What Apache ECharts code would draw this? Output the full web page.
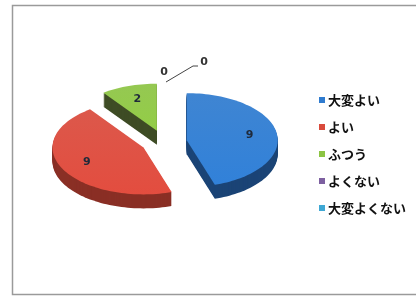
<!DOCTYPE html>
<html>
<head>
<meta charset="utf-8">
<script src="https://cdn.jsdelivr.net/npm/echarts@6/dist/echarts.min.js"></script>
<style>
  html, body { margin: 0; padding: 0; background: #fff; }
  #chart { width: 416px; height: 300px; }
</style>
</head>
<body>
<div id="chart"></div>
<script>
  // 回答の集計
  var categories = ['大変よい', 'よい', 'ふつう', 'よくない', '大変よくない'];
  var values = [9, 9, 2, 0, 0];

  var topColors = ['#2f7bcf', '#d94a3c', '#8cc443', '#7d60a0', '#3fa8d4'];
  var sideColors = ['#1b4476', '#8a2f25', '#3e4c25', '#4a3a66', '#25657f'];

  // ellipse geometry of the tilted pie
  var cx = 164, cy = 142, rx = 91, ry = 47, explode = 23, depth = 14;

  var total = values.reduce(function (a, b) { return a + b; }, 0);

  function pt(ox, oy, t, f) {
    return [ox + rx * f * Math.sin(t), oy - ry * f * Math.cos(t)];
  }

  function renderSlice(idx) {
    return function (params, api) {
      var v = api.value(0);
      var before = 0;
      for (var k = 0; k < idx; k++) before += values[k];
      var a0 = before / total * Math.PI * 2;
      var a1 = (before + v) / total * Math.PI * 2;
      var children = [];

      if (v === 0) {
        // zero slices: label only, above the top of the pie
        var zi = 0;
        for (var k2 = 0; k2 < idx; k2++) if (values[k2] === 0) zi++;
        var top = pt(cx, cy, a0, 1);
        if (zi === 0) {
          children.push({ type: 'text', style: { text: String(v), x: top[0], y: top[1] - 23,
            align: 'center', verticalAlign: 'middle', font: 'bold 11px "DejaVu Sans"', fill: '#333' } });
        } else {
          children.push({ type: 'polyline', shape: { points: [[top[0] + 2, top[1] - 13], [top[0] + 29, top[1] - 29], [top[0] + 34, top[1] - 29]] },
            style: { stroke: '#444', lineWidth: 1, fill: null } });
          children.push({ type: 'text', style: { text: String(v), x: top[0] + 40, y: top[1] - 33,
            align: 'center', verticalAlign: 'middle', font: 'bold 11px "DejaVu Sans"', fill: '#333' } });
        }
        return { type: 'group', children: children };
      }

      var mid = (a0 + a1) / 2;
      var ox = cx + explode * Math.sin(mid);
      var oy = cy - explode * Math.cos(mid) * ry / rx;

      var pts = [[ox, oy]];
      var n = Math.max(4, Math.ceil((a1 - a0) / (Math.PI / 90)));
      for (var j = 0; j <= n; j++) {
        pts.push(pt(ox, oy, a0 + (a1 - a0) * j / n, 1));
      }

      // side walls: stacked copies shifted down
      for (var d = depth; d >= 1; d--) {
        children.push({
          type: 'polygon',
          shape: { points: pts.map(function (p) { return [p[0], p[1] + d]; }) },
          style: { fill: sideColors[idx] }
        });
      }
      children.push({
        type: 'polygon',
        shape: { points: pts },
        style: {
          fill: new echarts.graphic.LinearGradient(0, 0, 0, 1, [
            { offset: 0, color: echarts.color.lift(topColors[idx], 0.08) },
            { offset: 1, color: echarts.color.lift(topColors[idx], -0.05) }
          ])
        }
      });

      var lp = pt(ox, oy, mid, 0.7);
      children.push({
        type: 'text',
        style: { text: String(v), x: lp[0], y: lp[1], align: 'center', verticalAlign: 'middle',
          font: 'bold 11px "DejaVu Sans"', fill: '#1f2a3a' }
      });
      return { type: 'group', children: children };
    };
  }

  var series = categories.map(function (name, i) {
    return {
      type: 'custom',
      name: name,
      coordinateSystem: 'none',
      itemStyle: { color: topColors[i] },
      data: [[values[i]]],
      renderItem: renderSlice(i)
    };
  });

  var chart = echarts.init(document.getElementById('chart'), null, { renderer: 'canvas' });
  chart.setOption({
    animation: false,
    backgroundColor: '#fff',
    color: topColors,
    legend: {
      orient: 'vertical',
      left: 314,
      top: 88,
      icon: 'rect',
      itemWidth: 6,
      itemHeight: 6,
      itemGap: 13,
      data: categories,
      textStyle: {
        fontFamily: '"Noto Sans CJK JP"',
        fontSize: 13,
        fontWeight: 'bold',
        lineHeight: 14,
        color: '#111',
        padding: [0, 0, 0, -2]
      }
    },
    graphic: [{
      type: 'rect',
      shape: { x: 12.5, y: 5.5, width: 410, height: 289 },
      style: { fill: null, stroke: '#9a9a9a', lineWidth: 1.5 },
      silent: true
    }],
    series: series
  });
</script>
</body>
</html>
